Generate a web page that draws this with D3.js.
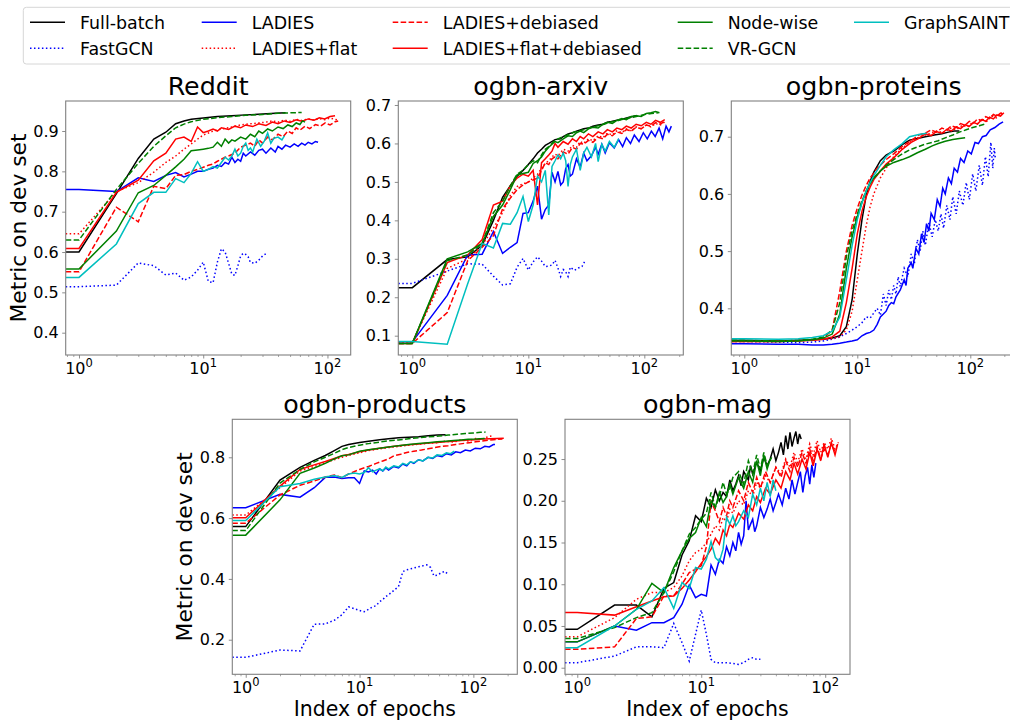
<!DOCTYPE html>
<html>
<head>
<meta charset="utf-8">
<script src="https://cdn.jsdelivr.net/npm/d3@7"></script>
<style>
  body { margin: 0; background: #fff; }
  text { font-family: "DejaVu Sans", sans-serif; }
</style>
</head>
<body>
<svg id="chart" width="1010" height="721"></svg>
<script>
// methods, in legend / plotting order
const methodNames = ["Full-batch", "FastGCN", "LADIES", "LADIES+flat", "LADIES+debiased",
  "LADIES+flat+debiased", "Node-wise", "VR-GCN", "GraphSAINT"];
const methodColors = ["#000000", "#0000ff", "#0000ff", "#ff0000", "#ff0000", "#ff0000", "#008000", "#008000", "#00bfbf"];
const methodDash = [null, "1.5,2.475", null, "1.5,2.475", "5.55,2.4", null, null, "5.55,2.4", null];

// ---- Reddit: [epoch, metric] ----
const reddit_full = [[1,.600],[2,.745],[3,.832],[4,.880],[5,.897],[6,.918],[7,.925],[8,.929],[10,.932],[13,.936],[17,.938],[22,.940],[30,.942],[38,.944],[46,.945]];
const reddit_fastgcn = [[1,.514],[2,.518],[3,.573],[4,.566],[5,.543],[6,.548],[7,.530],[8,.538],[9,.555],[10,.575],[11,.527],[12,.524],[13,.575],[14,.608],[15,.600],[16,.572],[17,.545],[18,.542],[19,.566],[20,.590],[21,.597],[22,.594],[23,.588],[24,.574],[26,.572],[28,.580],[30,.590],[33,.599]];
const reddit_ladies = [[1,.755],[2,.750],[3,.784],[4,.775],[5,.790],[6,.797],[7,.786],[8,.793],[9,.800],[10,.800],[11,.805],[12,.808],[13,.815],[14,.812],[15,.822],[16,.818],[17,.835],[18,.822],[19,.830],[20,.825],[21,.845],[22,.838],[24,.848],[26,.840],[28,.852],[30,.855],[32,.845],[35,.858],[38,.848],[40,.862],[43,.855],[46,.865],[50,.860],[54,.868],[58,.862],[62,.870],[66,.865],[70,.872],[75,.868],[80,.874],[84,.872]];
const reddit_flat = [[1,.645],[2,.750],[3,.772],[4,.798],[5,.822],[6,.838],[7,.855],[8,.868],[9,.880],[10,.890],[11,.895],[12,.900],[14,.905],[16,.908],[18,.912],[20,.915],[24,.918],[28,.920],[32,.922],[36,.925],[40,.922],[45,.927],[50,.924],[56,.929],[62,.926],[70,.930],[78,.927],[86,.931],[95,.928],[105,.932],[115,.929],[122,.927]];
const reddit_debiased = [[1,.551],[2,.711],[3,.675],[4,.763],[5,.757],[6,.790],[7,.792],[8,.800],[9,.805],[10,.810],[11,.815],[12,.818],[13,.825],[14,.830],[15,.835],[16,.838],[18,.845],[20,.860],[22,.865],[24,.870],[26,.862],[28,.878],[30,.870],[33,.885],[36,.878],[40,.892],[44,.886],[48,.900],[52,.894],[56,.908],[60,.902],[66,.912],[72,.906],[80,.916],[88,.912],[96,.920],[105,.915],[115,.923],[122,.925]];
const reddit_flatdeb = [[1,.609],[2,.748],[3,.778],[4,.826],[5,.845],[6,.880],[7,.885],[8,.874],[9,.910],[10,.896],[11,.900],[12,.905],[13,.900],[14,.908],[16,.904],[18,.912],[20,.908],[22,.915],[25,.911],[28,.918],[32,.914],[36,.922],[40,.918],[45,.925],[50,.921],[56,.928],[62,.924],[70,.930],[78,.927],[86,.933],[95,.930],[105,.936],[115,.938]];
const reddit_node = [[1,.558],[2,.652],[3,.747],[4,.765],[5,.790],[6,.811],[7,.830],[8,.851],[9,.853],[10,.855],[11,.857],[12,.860],[13,.872],[14,.862],[15,.880],[16,.870],[17,.878],[18,.875],[20,.885],[22,.880],[24,.892],[26,.886],[28,.900],[30,.894],[33,.905],[36,.900],[40,.910],[44,.906],[48,.915],[52,.911],[56,.920],[60,.916],[63,.925],[66,.922]];
const reddit_vrgcn = [[1,.630],[2,.755],[3,.820],[4,.862],[5,.888],[6,.908],[7,.917],[8,.923],[10,.929],[13,.933],[17,.936],[22,.939],[30,.941],[40,.944],[50,.945],[62,.946]];
const reddit_saint = [[1,.537],[2,.620],[3,.720],[4,.748],[5,.748],[6,.782],[7,.772],[8,.795],[9,.824],[10,.800],[11,.805],[12,.812],[13,.808],[14,.822],[15,.835],[16,.828],[17,.838],[18,.855],[19,.838],[20,.845],[21,.862],[22,.870],[23,.852],[24,.858],[25,.848],[27,.880],[29,.862],[31,.875],[33,.895],[35,.870],[37,.882],[40,.885],[43,.878],[45,.888]];

// ---- ogbn-arxiv ----
const arxiv_full = [[1,.225],[2,.298],[3,.305],[4,.335],[5,.400],[6,.460],[7,.490],[8,.515],[9,.530],[10,.545],[11,.560],[12,.575],[13,.585],[14,.595],[15,.600],[17,.610],[19,.612],[20,.618],[22,.625],[24,.628],[26,.632],[28,.635],[30,.638],[33,.640],[36,.645],[40,.648],[44,.650],[48,.655],[52,.657],[57,.660],[62,.662],[68,.665],[74,.668],[80,.670],[86,.673]];
const arxiv_fastgcn = [[1,.236],[2,.268],[3,.287],[4,.286],[5,.255],[6,.232],[7,.235],[8,.278],[9,.301],[10,.271],[11,.292],[12,.305],[13,.294],[14,.280],[15,.281],[16,.284],[17,.296],[18,.276],[19,.254],[20,.272],[21,.266],[22,.254],[23,.278],[25,.270],[27,.276],[29,.280],[31,.296]];
const arxiv_ladies = [[1,.084],[2,.205],[3,.310],[4,.312],[5,.371],[6,.314],[7,.330],[8,.342],[9,.418],[10,.420],[11,.450],[12,.489],[13,.403],[14,.428],[15,.440],[16,.525],[17,.500],[18,.527],[19,.492],[20,.500],[21,.535],[22,.545],[23,.515],[24,.520],[26,.560],[28,.538],[30,.575],[32,.555],[35,.568],[38,.590],[40,.572],[43,.598],[46,.575],[50,.602],[55,.588],[60,.610],[65,.592],[70,.615],[76,.600],[82,.622],[90,.605],[98,.628],[106,.612],[115,.632],[124,.618],[134,.640],[144,.612],[154,.645],[163,.630],[171,.645]];
const arxiv_flat = [[1,.082],[2,.275],[3,.300],[4,.335],[5,.380],[6,.420],[7,.465],[8,.488],[9,.495],[10,.500],[11,.510],[12,.520],[13,.535],[14,.548],[15,.555],[16,.565],[17,.572],[18,.568],[20,.585],[22,.580],[24,.595],[26,.590],[28,.605],[30,.600],[33,.612],[36,.607],[40,.620],[44,.615],[48,.627],[53,.622],[58,.633],[64,.628],[70,.638],[77,.632],[85,.643],[94,.638],[104,.648],[114,.643],[125,.652],[137,.648],[150,.656]];
const arxiv_debiased = [[1,.080],[2,.160],[3,.295],[4,.330],[5,.360],[6,.430],[7,.458],[8,.480],[9,.492],[10,.500],[11,.505],[12,.510],[13,.530],[14,.550],[15,.545],[16,.560],[17,.565],[18,.560],[20,.578],[22,.572],[24,.590],[26,.585],[28,.600],[30,.598],[33,.608],[36,.603],[40,.616],[44,.612],[48,.624],[53,.620],[58,.630],[64,.626],[70,.636],[77,.632],[85,.642],[94,.638],[104,.648],[114,.645],[125,.654],[137,.650],[150,.658]];
const arxiv_flatdeb = [[1,.080],[2,.290],[3,.310],[4,.350],[5,.440],[6,.450],[7,.490],[8,.510],[9,.520],[10,.515],[11,.530],[12,.440],[13,.550],[14,.560],[15,.570],[16,.580],[17,.600],[18,.590],[20,.605],[22,.598],[24,.612],[26,.605],[28,.618],[30,.612],[33,.625],[36,.618],[40,.630],[44,.625],[48,.636],[53,.630],[58,.640],[64,.636],[70,.645],[77,.640],[85,.650],[94,.646],[104,.655],[114,.650],[125,.660],[137,.655],[150,.662]];
const arxiv_node = [[1,.080],[2,.300],[3,.318],[4,.340],[5,.410],[6,.440],[7,.480],[8,.518],[9,.522],[10,.525],[11,.548],[12,.555],[13,.565],[14,.580],[15,.590],[16,.598],[17,.605],[18,.602],[20,.612],[22,.620],[24,.618],[26,.628],[28,.632],[30,.628],[33,.638],[36,.642],[40,.640],[44,.650],[48,.655],[53,.652],[58,.660],[64,.665],[70,.662],[77,.670],[85,.672],[94,.670],[104,.678],[114,.680],[125,.683],[135,.680]];
const arxiv_vrgcn = [[1,.080],[2,.295],[3,.310],[4,.340],[5,.420],[6,.450],[7,.490],[8,.520],[9,.530],[10,.545],[11,.555],[12,.550],[13,.570],[14,.585],[15,.592],[17,.608],[19,.615],[21,.620],[23,.625],[25,.630],[28,.633],[31,.637],[35,.642],[40,.646],[45,.650],[50,.655],[57,.658],[64,.662],[72,.666],[80,.668],[90,.672],[100,.675],[115,.678],[132,.680]];
const arxiv_saint = [[1,.085],[2,.078],[3,.235],[4,.340],[5,.328],[6,.392],[7,.390],[8,.420],[9,.462],[10,.397],[11,.440],[12,.515],[13,.500],[14,.530],[15,.414],[16,.540],[17,.555],[18,.570],[19,.560],[20,.575],[21,.555],[22,.488],[23,.545],[24,.565],[26,.585],[28,.530],[30,.575],[32,.590],[35,.565],[38,.600],[40,.553],[43,.598],[46,.580],[50,.605],[55,.590],[60,.612]];

// ---- ogbn-proteins ----
const proteins_full = [[1,.344],[2,.343],[3,.344],[4,.345],[5,.346],[6,.348],[7,.352],[8,.368],[9,.415],[10,.495],[11,.555],[12,.598],[13,.622],[14,.638],[16,.658],[18,.668],[21,.675],[25,.686],[29,.694],[34,.697],[40,.700],[48,.703],[56,.705],[64,.708],[72,.710],[80,.710]];
const proteins_fastgcn = [[1,.342],[2,.341],[3,.340],[4,.341],[5,.343],[6,.346],[7,.350],[8,.356],[9,.362],[10,.368],[11,.375],[12,.385],[13,.383],[14,.392],[15,.400],[16,.388],[17,.425],[18,.405],[19,.432],[20,.415],[21,.440],[22,.425],[23,.455],[24,.438],[26,.470],[28,.455],[30,.495],[32,.478],[34,.520],[36,.500],[38,.535],[40,.510],[43,.550],[46,.525],[49,.555],[52,.535],[55,.565],[58,.540],[62,.580],[66,.555],[70,.595],[75,.565],[80,.605],[86,.580],[92,.620],[98,.590],[105,.635],[112,.605],[120,.650],[128,.615],[136,.665],[144,.630],[152,.690],[158,.645],[163,.680],[167,.660]];
const proteins_ladies = [[1,.338],[2,.337],[3,.337],[4,.336],[5,.336],[6,.337],[7,.339],[8,.341],[9,.343],[10,.345],[11,.352],[12,.356],[13,.358],[14,.362],[15,.372],[16,.385],[17,.390],[18,.395],[19,.405],[20,.410],[21,.408],[22,.420],[24,.432],[26,.450],[27,.440],[28,.470],[30,.480],[31,.470],[33,.505],[35,.495],[37,.530],[39,.515],[41,.548],[43,.535],[45,.566],[48,.555],[51,.590],[54,.578],[57,.610],[60,.600],[64,.628],[68,.618],[72,.645],[77,.638],[82,.662],[88,.655],[95,.675],[102,.670],[110,.690],[118,.688],[128,.700],[138,.702],[150,.712],[165,.716],[180,.722],[195,.726]];
const proteins_flat = [[1,.343],[2,.343],[3,.344],[4,.345],[5,.346],[6,.347],[7,.350],[8,.362],[9,.395],[10,.450],[11,.500],[12,.545],[13,.578],[14,.600],[16,.628],[18,.645],[21,.665],[25,.680],[30,.693],[36,.700],[43,.705],[50,.710],[58,.707],[66,.715],[75,.712],[85,.720],[95,.717],[105,.726],[115,.722],[125,.731],[140,.727],[155,.736],[170,.733],[190,.742]];
const proteins_debiased = [[1,.342],[2,.342],[3,.343],[4,.345],[5,.348],[6,.362],[7,.430],[8,.500],[9,.545],[10,.575],[11,.598],[12,.615],[13,.628],[15,.645],[18,.660],[21,.670],[25,.683],[30,.693],[35,.703],[40,.706],[45,.712],[50,.708],[56,.715],[62,.712],[68,.719],[75,.716],[82,.723],[90,.720],[98,.727],[107,.724],[116,.731],[126,.728],[137,.735],[148,.732],[160,.739],[172,.736],[185,.741],[195,.739]];
const proteins_flatdeb = [[1,.342],[2,.342],[3,.343],[4,.344],[5,.346],[6,.350],[7,.360],[8,.410],[9,.470],[10,.530],[11,.570],[12,.595],[13,.612],[14,.625],[16,.640],[18,.652],[21,.663],[25,.678],[30,.690],[35,.697],[40,.705],[45,.702],[50,.709],[56,.706],[62,.713],[68,.710],[75,.717],[82,.714],[90,.721],[98,.718],[107,.725],[116,.722],[126,.730],[137,.727],[148,.734],[160,.731],[172,.738],[185,.736],[198,.742]];
const proteins_node = [[1,.343],[2,.342],[3,.343],[4,.345],[5,.348],[6,.355],[7,.390],[8,.470],[9,.525],[10,.560],[11,.585],[12,.605],[13,.620],[14,.628],[16,.640],[18,.648],[21,.655],[25,.660],[29,.665],[34,.672],[40,.678],[46,.684],[52,.688],[60,.692],[70,.695],[80,.697],[90,.698]];
const proteins_vrgcn = [[1,.344],[2,.343],[3,.344],[4,.346],[5,.350],[6,.362],[7,.410],[8,.490],[9,.535],[10,.565],[11,.588],[12,.605],[13,.618],[14,.628],[16,.640],[18,.650],[21,.660],[25,.670],[29,.677],[34,.682],[40,.687],[46,.690],[52,.693],[60,.698],[70,.703],[80,.708],[92,.712],[105,.716],[120,.719],[134,.722]];
const proteins_saint = [[1,.347],[2,.346],[3,.347],[4,.349],[5,.352],[6,.360],[7,.385],[8,.450],[9,.510],[10,.555],[11,.585],[12,.605],[13,.620],[14,.632],[16,.650],[18,.665],[21,.677],[25,.688],[29,.700],[35,.704],[41,.706]];

// ---- ogbn-products ----
const products_full = [[1,.572],[2,.725],[3,.767],[4,.790],[5,.806],[6,.822],[7,.836],[8,.842],[10,.849],[12,.853],[15,.858],[18,.861],[22,.864],[27,.866],[33,.868],[40,.871],[48,.873],[57,.874]];
const products_fastgcn = [[1,.142],[2,.166],[3,.163],[4,.251],[5,.252],[6,.264],[7,.282],[8,.308],[9,.302],[10,.296],[11,.292],[12,.300],[13,.308],[14,.312],[15,.325],[16,.332],[17,.342],[18,.348],[19,.355],[20,.362],[22,.375],[24,.424],[26,.430],[28,.433],[30,.436],[33,.440],[36,.443],[39,.446],[42,.438],[45,.410],[48,.412],[52,.420],[56,.425],[60,.415]];
const products_ladies = [[1,.634],[2,.678],[3,.669],[4,.700],[5,.734],[6,.735],[7,.730],[8,.733],[9,.733],[10,.714],[11,.755],[12,.752],[13,.758],[14,.745],[15,.762],[16,.755],[17,.765],[18,.758],[20,.770],[22,.765],[24,.778],[26,.772],[28,.785],[30,.780],[33,.792],[36,.788],[40,.800],[44,.796],[48,.806],[53,.802],[58,.812],[64,.808],[70,.818],[77,.815],[85,.824],[94,.821],[104,.830],[115,.828],[126,.836],[138,.834],[150,.842],[155,.842]];
const products_flat = [[1,.610],[2,.700],[3,.755],[4,.770],[5,.782],[6,.792],[7,.800],[8,.806],[10,.815],[12,.822],[15,.828],[18,.832],[22,.836],[27,.840],[33,.843],[40,.846],[48,.848],[57,.853],[67,.850],[78,.857],[90,.854],[105,.862],[120,.860],[135,.868],[150,.871]];
const products_debiased = [[1,.583],[2,.676],[3,.708],[4,.722],[5,.735],[6,.742],[7,.733],[8,.745],[10,.760],[12,.770],[14,.780],[16,.788],[18,.795],[20,.805],[23,.810],[26,.816],[30,.820],[35,.824],[40,.828],[46,.832],[53,.836],[60,.838],[70,.842],[80,.845],[92,.848],[105,.851],[120,.854],[135,.856],[150,.858],[165,.859],[180,.860]];
const products_flatdeb = [[1,.601],[2,.705],[3,.760],[4,.775],[5,.786],[6,.796],[7,.805],[8,.809],[10,.818],[12,.824],[15,.830],[18,.834],[22,.838],[27,.841],[33,.844],[40,.847],[48,.849],[57,.851],[67,.853],[78,.855],[90,.857],[105,.858],[120,.860],[140,.861],[160,.862],[185,.863]];
const products_node = [[1,.544],[2,.660],[3,.747],[4,.765],[5,.780],[6,.795],[7,.805],[8,.808],[10,.820],[12,.825],[15,.830],[18,.834],[22,.838],[27,.842],[33,.845],[40,.848],[48,.851],[57,.853],[67,.855],[78,.857],[90,.859],[105,.860],[126,.862]];
const products_vrgcn = [[1,.559],[2,.715],[3,.760],[4,.785],[5,.800],[6,.813],[7,.825],[8,.832],[10,.840],[12,.845],[15,.850],[18,.854],[22,.857],[27,.861],[33,.864],[40,.867],[50,.870],[60,.873],[72,.876],[85,.878],[100,.880],[115,.882],[128,.883]];
const products_saint = [[1,.592],[2,.703],[3,.714],[4,.728],[5,.735],[6,.740],[7,.734],[8,.745],[9,.748],[10,.745],[11,.750],[12,.766],[13,.752],[14,.758],[15,.762],[16,.756],[17,.768],[18,.762],[20,.772],[22,.768],[24,.780],[26,.775],[28,.785],[30,.782],[33,.792],[36,.788],[40,.800],[44,.798],[48,.808],[53,.806],[58,.815],[63,.812],[68,.820]];

// ---- ogbn-mag ----
const mag_full = [[1,.046],[2,.075],[3,.075],[4,.061],[5,.095],[6,.102],[7,.135],[8,.152],[9,.182],[10,.175],[11,.203],[12,.192],[13,.213],[14,.200],[15,.210],[16,.205],[17,.225],[18,.212],[19,.220],[20,.230],[21,.218],[22,.235],[24,.225],[25,.242],[26,.232],[28,.246],[30,.236],[32,.252],[34,.242],[36,.250],[38,.262],[40,.248],[42,.258],[44,.270],[46,.255],[48,.278],[50,.262],[52,.282],[54,.265],[56,.275],[58,.283],[60,.268],[62,.280],[64,.274]];
const mag_fastgcn = [[1,.006],[2,.014],[3,.025],[4,.025],[5,.024],[6,.053],[7,.030],[8,.008],[9,.040],[10,.069],[11,.040],[12,.010],[13,.006],[14,.006],[16,.006],[18,.005],[20,.004],[22,.006],[24,.010],[26,.012],[28,.010],[30,.010]];
const mag_ladies = [[1,.031],[2,.050],[3,.045],[4,.054],[5,.054],[6,.060],[7,.076],[8,.099],[9,.084],[10,.088],[11,.086],[12,.123],[13,.112],[14,.130],[15,.125],[16,.145],[17,.134],[18,.150],[19,.140],[20,.162],[21,.148],[22,.158],[23,.200],[24,.165],[25,.172],[26,.178],[27,.163],[28,.170],[30,.192],[32,.180],[34,.190],[36,.202],[38,.188],[40,.198],[42,.208],[45,.195],[48,.215],[51,.202],[54,.225],[57,.208],[60,.222],[63,.235],[66,.210],[69,.230],[72,.240],[75,.220],[78,.243],[81,.228],[84,.245]];
const mag_flat = [[1,.037],[2,.060],[3,.082],[4,.090],[5,.090],[6,.096],[7,.110],[8,.128],[9,.138],[10,.142],[11,.150],[12,.160],[13,.170],[14,.165],[15,.180],[16,.175],[17,.190],[18,.185],[20,.200],[22,.195],[24,.212],[26,.205],[28,.222],[30,.215],[33,.230],[36,.222],[40,.240],[44,.232],[48,.250],[52,.240],[56,.258],[60,.246],[65,.262],[70,.250],[75,.268],[80,.255],[86,.272],[92,.258],[98,.270],[105,.262],[112,.275],[120,.262],[128,.270]];
const mag_debiased = [[1,.022],[2,.025],[3,.059],[4,.061],[5,.086],[6,.086],[7,.100],[8,.114],[9,.118],[10,.122],[11,.145],[12,.199],[13,.188],[14,.175],[15,.192],[16,.182],[17,.200],[18,.192],[20,.212],[22,.200],[24,.222],[26,.210],[28,.228],[30,.215],[33,.235],[36,.222],[40,.240],[44,.228],[48,.248],[52,.235],[56,.252],[60,.240],[65,.258],[70,.245],[75,.262],[80,.248],[86,.265],[92,.250],[98,.262],[105,.255],[112,.268],[120,.258]];
const mag_flatdeb = [[1,.066],[2,.063],[3,.073],[4,.080],[5,.085],[6,.086],[7,.095],[8,.105],[9,.115],[10,.125],[11,.133],[12,.142],[13,.155],[14,.148],[15,.165],[16,.158],[17,.172],[18,.168],[20,.185],[22,.178],[24,.195],[26,.188],[28,.205],[30,.198],[33,.215],[36,.208],[40,.225],[44,.215],[48,.235],[52,.225],[56,.245],[60,.232],[65,.250],[70,.238],[75,.258],[80,.242],[86,.262],[92,.248],[98,.268],[105,.252],[112,.270],[120,.255],[126,.268]];
const mag_node = [[1,.031],[2,.050],[3,.070],[4,.101],[5,.090],[6,.120],[7,.140],[8,.155],[9,.162],[10,.180],[11,.169],[12,.200],[13,.192],[14,.210],[15,.198],[16,.205],[17,.220],[18,.208],[20,.228],[22,.215],[24,.235],[26,.222],[28,.248],[30,.230],[32,.255],[34,.238],[36,.250]];
const mag_vrgcn = [[1,.035],[2,.048],[3,.060],[4,.066],[5,.090],[6,.115],[7,.140],[8,.160],[9,.168],[10,.178],[11,.185],[12,.210],[13,.192],[14,.205],[15,.222],[16,.208],[17,.215],[18,.228],[20,.235],[22,.220],[24,.248],[26,.232],[28,.255],[30,.238],[32,.258],[34,.242],[37,.252]];
const mag_saint = [[1,.024],[2,.050],[3,.070],[4,.080],[5,.096],[6,.071],[7,.102],[8,.095],[9,.120],[10,.118],[11,.130],[12,.151],[13,.132],[14,.127],[15,.142],[16,.180],[17,.172],[18,.182],[19,.170],[20,.175],[22,.188],[24,.180],[26,.208],[28,.195],[30,.215],[32,.200],[34,.222],[36,.205],[38,.225],[40,.212]];

// panel labels and axes
const panelTitles = ["Reddit", "ogbn-arxiv", "ogbn-proteins", "ogbn-products", "ogbn-mag"];
const yTickValues = [
  [0.4, 0.5, 0.6, 0.7, 0.8, 0.9],
  [0.1, 0.2, 0.3, 0.4, 0.5, 0.6, 0.7],
  [0.4, 0.5, 0.6, 0.7],
  [0.2, 0.4, 0.6, 0.8],
  [0.00, 0.05, 0.10, 0.15, 0.20, 0.25]
];
const yTickFormats = [".1f", ".1f", ".1f", ".1f", ".2f"];
const yLimits = [[0.3447, 0.9744], [0.0498, 0.7104], [0.3184, 0.7624], [0.0862, 0.925], [-0.0079, 0.2976]];
const xLogLimits = [[-0.107, 2.187], [-0.121, 2.336], [-0.115, 2.407], [-0.118, 2.386], [-0.099, 2.2]];

const panelSeries = [
  [reddit_full, reddit_fastgcn, reddit_ladies, reddit_flat, reddit_debiased, reddit_flatdeb, reddit_node, reddit_vrgcn, reddit_saint],
  [arxiv_full, arxiv_fastgcn, arxiv_ladies, arxiv_flat, arxiv_debiased, arxiv_flatdeb, arxiv_node, arxiv_vrgcn, arxiv_saint],
  [proteins_full, proteins_fastgcn, proteins_ladies, proteins_flat, proteins_debiased, proteins_flatdeb, proteins_node, proteins_vrgcn, proteins_saint],
  [products_full, products_fastgcn, products_ladies, products_flat, products_debiased, products_flatdeb, products_node, products_vrgcn, products_saint],
  [mag_full, mag_fastgcn, mag_ladies, mag_flat, mag_debiased, mag_flatdeb, mag_node, mag_vrgcn, mag_saint]
];

// layout of the five axes boxes
const boxes = [
  {left: 65.7, top: 101, width: 285, height: 254, ylabel: true, xlabel: false},
  {left: 398.3, top: 101, width: 285, height: 254, ylabel: false, xlabel: false},
  {left: 731.3, top: 101, width: 285, height: 254, ylabel: false, xlabel: false},
  {left: 232.3, top: 419.3, width: 285, height: 255, ylabel: true, xlabel: true},
  {left: 565, top: 419.3, width: 285, height: 255, ylabel: false, xlabel: true}
];

const svg = d3.select("#chart");
const spine = "#808080";

boxes.forEach(function(b, p) {
  var g = svg.append("g").attr("transform", "translate(" + b.left + "," + b.top + ")");

  var x = d3.scaleLog()
    .domain([Math.pow(10, xLogLimits[p][0]), Math.pow(10, xLogLimits[p][1])])
    .range([0, b.width]);
  var y = d3.scaleLinear().domain(yLimits[p]).range([b.height, 0]);

  g.append("clipPath").attr("id", "clip" + p)
    .append("rect").attr("width", b.width).attr("height", b.height);

  var line = d3.line().x(d => x(d[0])).y(d => y(d[1]));

  var lines = g.append("g").attr("clip-path", "url(#clip" + p + ")");
  panelSeries[p].forEach(function(s, i) {
    // epoch 0 sits off the left edge of a log axis: draw it as a lead-in at the first value
    var pts = [[x.domain()[0], s[0][1]]].concat(s);
    lines.append("path")
      .datum(pts)
      .attr("fill", "none")
      .attr("stroke", methodColors[i])
      .attr("stroke-width", 1.5)
      .attr("stroke-dasharray", methodDash[i])
      .attr("d", line);
  });

  // Y axis
  var yAxis = g.append("g")
    .call(d3.axisLeft(y).tickValues(yTickValues[p]).tickFormat(d3.format(yTickFormats[p]))
      .tickSize(3.5).tickPadding(3.5).tickSizeOuter(0));
  yAxis.select(".domain").remove();
  yAxis.selectAll("line").attr("stroke", spine).attr("stroke-width", 0.9);
  yAxis.selectAll("text").style("font-size", "16px").attr("fill", "#000");

  // X axis: minor and major ticks
  var d0 = x.domain()[0], d1 = x.domain()[1];
  var majors = [1, 10, 100].filter(v => v >= d0 && v <= d1);
  var minors = [];
  [0.1, 1, 10, 100].forEach(function(dec) {
    for (var k = 2; k <= 9; k++) {
      var v = dec * k;
      if (v >= d0 && v <= d1) minors.push(v);
    }
  });
  var xMinor = g.append("g").attr("transform", "translate(0," + b.height + ")")
    .call(d3.axisBottom(x).tickValues(minors).tickFormat("").tickSize(2).tickSizeOuter(0));
  xMinor.select(".domain").remove();
  xMinor.selectAll("line").attr("stroke", spine).attr("stroke-width", 0.7);

  var xMajor = g.append("g").attr("transform", "translate(0," + b.height + ")")
    .call(d3.axisBottom(x).tickValues(majors).tickFormat("").tickSize(3.5).tickSizeOuter(0));
  xMajor.select(".domain").remove();
  xMajor.selectAll("line").attr("stroke", spine).attr("stroke-width", 0.9);

  majors.forEach(function(v) {
    var t = g.append("text")
      .attr("x", x(v)).attr("y", b.height + 18.5)
      .attr("text-anchor", "middle")
      .style("font-size", "16px");
    t.append("tspan").text("10");
    t.append("tspan").attr("dy", -7).style("font-size", "11.5px").text(Math.round(Math.log10(v)));
  });

  // frame
  g.append("rect")
    .attr("width", b.width).attr("height", b.height)
    .attr("fill", "none").attr("stroke", spine).attr("stroke-width", 1.1);

  // title
  g.append("text")
    .attr("x", b.width / 2).attr("y", -6)
    .attr("text-anchor", "middle")
    .style("font-size", "25.3px")
    .text(panelTitles[p]);

  if (b.ylabel) {
    g.append("text")
      .attr("transform", "translate(-40," + (b.height / 2) + ") rotate(-90)")
      .attr("text-anchor", "middle")
      .style("font-size", "21.8px")
      .text("Metric on dev set");
  }
  if (b.xlabel) {
    g.append("text")
      .attr("x", b.width / 2).attr("y", 716.2 - b.top)
      .attr("text-anchor", "middle")
      .style("font-size", "20.5px")
      .text("Index of epochs");
  }
});

// legend (5 columns, filled column by column)
const legendCols = [30, 201.7, 392.7, 677.7, 854];
const legendRows = [22.3, 48.3];

var legend = svg.append("g");
legend.append("rect")
  .attr("x", 23.3).attr("y", 7.3).attr("width", 1000).attr("height", 56.7)
  .attr("rx", 3).attr("fill", "#fff").attr("stroke", "#d6d6d6").attr("stroke-width", 1);

methodNames.forEach(function(name, i) {
  var cx = legendCols[Math.floor(i / 2)], cy = legendRows[i % 2];
  legend.append("line")
    .attr("x1", cx).attr("x2", cx + 35).attr("y1", cy).attr("y2", cy)
    .attr("stroke", methodColors[i]).attr("stroke-width", 1.5)
    .attr("stroke-dasharray", methodDash[i]);
  legend.append("text")
    .attr("x", cx + 50).attr("y", cy + 6.3)
    .style("font-size", "17.4px")
    .text(name);
});
</script>
</body>
</html>
